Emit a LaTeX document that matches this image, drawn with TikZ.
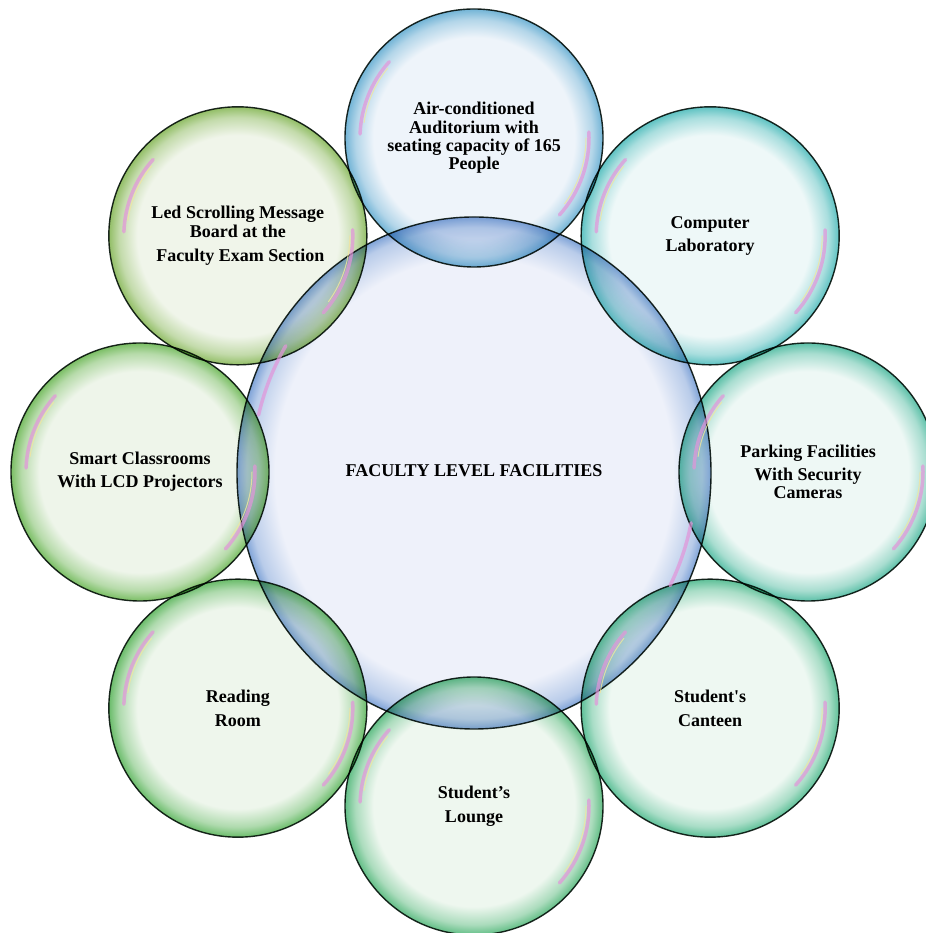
\documentclass[tikz,border=0pt]{standalone}
\usepackage{fontspec}
\setmainfont{Liberation Serif}
\newfontfamily\rawserif{Liberation Serif}
\usetikzlibrary{shapes.geometric}
\pgfdeclareradialshading[bubin,bubmid,bubout]{bubble}{\pgfpointorigin}{%
  color(0bp)=(bubin); color(19.5bp)=(bubin); color(23bp)=(bubmid); color(25bp)=(bubout); color(50bp)=(bubout)}
\pgfdeclareradialshading[bubin,bubmid,bubout]{hubble}{\pgfpointorigin}{%
  color(0bp)=(bubin); color(21bp)=(bubin); color(24bp)=(bubmid); color(25bp)=(bubout); color(50bp)=(bubout)}
\definecolor{rimline}{HTML}{1E2A24}
\definecolor{shinepink}{HTML}{E394DA}
\definecolor{shinelight}{HTML}{F2E4A0}
\definecolor{hubin}{HTML}{EEF1FA}\definecolor{hubout}{HTML}{80A4D8}
\definecolor{airin}{HTML}{EEF4FA}\definecolor{airout}{HTML}{72B4D6}
\definecolor{compin}{HTML}{EEF8F8}\definecolor{compout}{HTML}{5EC2C2}
\definecolor{parkin}{HTML}{EEF8F5}\definecolor{parkout}{HTML}{5CC0A8}
\definecolor{cantin}{HTML}{EEF8F2}\definecolor{cantout}{HTML}{5EC098}
\definecolor{loungein}{HTML}{EEF7EF}\definecolor{loungeout}{HTML}{62BE86}
\definecolor{readin}{HTML}{EEF6EC}\definecolor{readout}{HTML}{6ABC6A}
\definecolor{smartin}{HTML}{EEF5EA}\definecolor{smartout}{HTML}{7ABE64}
\definecolor{ledin}{HTML}{F0F5EA}\definecolor{ledout}{HTML}{92BE66}
\newcommand\bubcolors[2]{\colorlet{bubin}{#1}\colorlet{bubmid}{#1!52!#2}\colorlet{bubout}{#2}}
\tikzset{
  labelfont/.style={align=center, font=\bfseries\fontsize{18}{18.3}\selectfont},
  bub/.style={circle, minimum size=258pt, inner sep=0pt, shade, shading=bubble,
    draw=rimline, line width=1.4pt, blend mode=multiply, labelfont},
  hub/.style={ellipse, minimum width=474pt, minimum height=512pt, inner sep=0pt, shade, shading=hubble,
    draw=rimline, line width=1.4pt, blend mode=multiply, labelfont},
  shine/.style={shinepink, line width=3.5pt, line cap=round, opacity=0.7},
  shinethin/.style={shinelight, line width=1pt, line cap=round, opacity=0.8},
}
\begin{document}
\begin{tikzpicture}[x=1pt,y=1pt]
\useasboundingbox (0,0) rectangle (925,933);
\coordinate (C) at (474,461);
\bubcolors{hubin}{hubout}
\node[hub] (hub) at (474,460) {\raisebox{4pt}{FACULTY LEVEL FACILITIES}};
\bubcolors{airin}{airout}
\node[bub] (air) at ([shift={(90:334)}]C) {Air-conditioned\\Auditorium with\\seating capacity of 165\\People};
\bubcolors{compin}{compout}
\node[bub] (comp) at ([shift={(45:334)}]C) {Computer\\[5pt]Laboratory};
\bubcolors{parkin}{parkout}
\node[bub] (park) at ([shift={(0:334)}]C) {Parking Facilities\\[5pt]With Security\\Cameras};
\bubcolors{cantin}{cantout}
\node[bub] (cant) at ([shift={(-45:334)}]C) {{\rawserif\bfseries Student's}\\[6pt]Canteen};
\bubcolors{loungein}{loungeout}
\node[bub] (lounge) at ([shift={(-90:334)}]C) {Student’s\\[6pt]Lounge};
\bubcolors{readin}{readout}
\node[bub] (read) at ([shift={(-135:334)}]C) {Reading\\[6pt]Room};
\bubcolors{smartin}{smartout}
\node[bub] (smart) at ([shift={(180:334)}]C) {Smart Classrooms\\[5pt]With LCD Projectors};
\bubcolors{ledin}{ledout}
\node[bub] (led) at ([shift={(135:334)}]C) {Led Scrolling Message\\Board at the\\[6pt]\hspace*{5pt}Faculty Exam Section};
\foreach \n in {air,comp,park,cant,lounge,read,smart,led}{
  \draw[shine] ([shift={(138:114)}]\n.center) arc[start angle=138,end angle=178,radius=114];
  \draw[shinethin] ([shift={(141:111)}]\n.center) arc[start angle=141,end angle=172,radius=111];
  \draw[shine] ([shift={(3:115)}]\n.center) arc[start angle=3,end angle=-42,radius=115];
  \draw[shinethin] ([shift={(0:112)}]\n.center) arc[start angle=0,end angle=-36,radius=112];
}
\draw[shine] ([shift={({222*cos(148)},{240*sin(148)})}]hub.center) arc[start angle=148,end angle=166,x radius=222,y radius=240];
\draw[shine] ([shift={({222*cos(-12)},{240*sin(-12)})}]hub.center) arc[start angle=-12,end angle=-28,x radius=222,y radius=240];
\end{tikzpicture}
\end{document}
